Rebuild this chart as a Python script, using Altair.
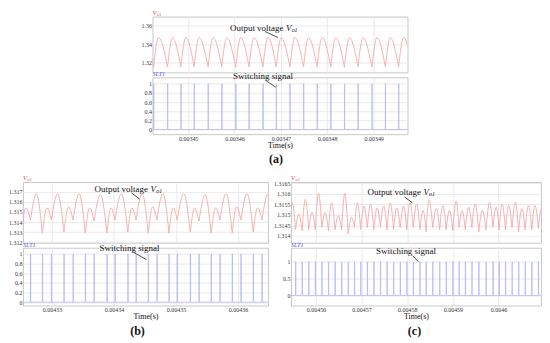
import altair as alt
import pandas as pd

# ---------------- data (times in microseconds, voltages in V) ----------------
# panel (a)
a_x_domain_us = [3442.3, 3497.3]
a_x_ticks = [0.00345, 0.00346, 0.00347, 0.00348, 0.00349]
a_v_domain = [1.309, 1.370]
a_v_ticks = [1.32, 1.34, 1.36]
a_s_domain = [-0.1, 1.14]
a_s_ticks = [0, 0.2, 0.4, 0.6, 0.8, 1]
a_trough_t = [3439.60, 3442.54, 3445.55, 3448.43, 3451.29, 3454.30, 3457.25, 3460.26, 3463.12,
              3466.13, 3468.99, 3471.94, 3474.88, 3477.81, 3480.75, 3483.70, 3486.62, 3489.63,
              3492.52, 3495.38, 3498.32]
a_trough_v = [1.3150, 1.3148, 1.3150, 1.3149, 1.3151, 1.3149, 1.3150, 1.3148, 1.3150, 1.3149,
              1.3151, 1.3149, 1.3150, 1.3148, 1.3150, 1.3149, 1.3151, 1.3149, 1.3150, 1.3148, 1.3150]
a_peak_t = [3440.68, 3443.62, 3446.63, 3449.51, 3452.37, 3455.38, 3458.33, 3461.34, 3464.20,
            3467.21, 3470.07, 3473.02, 3475.96, 3478.89, 3481.83, 3484.78, 3487.70, 3490.71,
            3493.60, 3496.46]
a_peak_v = [1.3468, 1.3470, 1.3468, 1.3471, 1.3469, 1.3470, 1.3468, 1.3471, 1.3469, 1.3470,
            1.3468, 1.3470, 1.3469, 1.3471, 1.3468, 1.3470, 1.3469, 1.3470, 1.3468, 1.3470]

# panel (b)
b_x_domain_us = [4325.31, 4364.84]
b_x_ticks = [0.00433, 0.00434, 0.00435, 0.00436]
b_v_domain = [1.31195, 1.31797]
b_v_ticks = [1.312, 1.313, 1.314, 1.315, 1.316, 1.317]
b_s_domain = [-0.07, 1.13]
b_s_ticks = [0, 0.2, 0.4, 0.6, 0.8, 1]
b_trough_t = [4325.06, 4326.52, 4328.44, 4329.89, 4331.92, 4333.39, 4335.36, 4336.77, 4338.86,
              4340.16, 4342.23, 4343.55, 4345.52, 4346.92, 4348.86, 4350.20, 4352.30, 4353.70,
              4355.67, 4357.08, 4359.06, 4360.47, 4362.45, 4363.86, 4365.83]
b_trough_v = [1.3129, 1.3142, 1.3129, 1.3142, 1.3130, 1.3142, 1.3129, 1.3141, 1.3129, 1.3142,
              1.3130, 1.3142, 1.3129, 1.3142, 1.3129, 1.3142, 1.3130, 1.3141, 1.3129, 1.3142,
              1.3129, 1.3142, 1.3130, 1.3142, 1.3129]
b_peak_t = [4325.79, 4327.48, 4329.17, 4330.91, 4332.66, 4334.38, 4336.07, 4337.82, 4339.51,
            4341.20, 4342.89, 4344.54, 4346.22, 4347.89, 4349.53, 4351.25, 4353.00, 4354.69,
            4356.38, 4358.07, 4359.77, 4361.46, 4363.16, 4364.85]
b_peak_v = [1.3154, 1.3168, 1.3154, 1.3168, 1.3155, 1.3168, 1.3154, 1.3167, 1.3154, 1.3168,
            1.3154, 1.3168, 1.3155, 1.3168, 1.3154, 1.3168, 1.3154, 1.3167, 1.3154, 1.3168,
            1.3155, 1.3168, 1.3154, 1.3168]

# panel (c)
c_x_domain_us = [4554.53, 4609.30]
c_x_ticks = [0.00456, 0.00457, 0.00458, 0.00459, 0.0046]
c_v_domain = [1.31368, 1.31655]
c_v_ticks = [1.314, 1.3145, 1.315, 1.3155, 1.316, 1.3165]
c_s_domain = [-0.3, 1.42]
c_s_ticks = [0, 0.5, 1]
c_trough_t = [4554.09, 4555.54, 4556.98, 4558.42, 4559.86, 4561.30, 4562.74, 4564.19, 4565.63,
              4567.06, 4568.43, 4569.81, 4571.25, 4572.69, 4574.13, 4575.57, 4577.01, 4578.46,
              4579.90, 4581.33, 4582.77, 4584.13, 4585.58, 4587.10, 4588.53, 4589.98, 4591.35,
              4592.72, 4594.16, 4595.67, 4597.25, 4598.77, 4600.13, 4601.51, 4602.96, 4604.39,
              4605.83, 4607.28, 4608.72, 4610.15]
c_trough_v = [1.3143, 1.3143, 1.31425, 1.3143, 1.3143, 1.3144, 1.31425, 1.3143, 1.3143, 1.3141,
              1.3144, 1.3143, 1.3144, 1.3143, 1.3144, 1.3143, 1.3143, 1.3144, 1.3143, 1.3144,
              1.3143, 1.3142, 1.3144, 1.3143, 1.3143, 1.31425, 1.3144, 1.3143, 1.3144, 1.3142,
              1.3143, 1.3144, 1.3143, 1.3143, 1.3144, 1.3142, 1.3143, 1.3143, 1.31435, 1.3143]
c_peak_t = [4554.81, 4556.26, 4557.69, 4559.14, 4560.58, 4562.01, 4563.46, 4564.91, 4566.34,
            4567.78, 4569.08, 4570.53, 4571.96, 4573.41, 4574.85, 4576.28, 4577.73, 4579.18,
            4580.61, 4582.05, 4583.48, 4584.78, 4586.38, 4587.81, 4589.25, 4590.70, 4592.00,
            4593.43, 4594.88, 4596.45, 4598.05, 4599.48, 4600.78, 4602.23, 4603.68, 4605.10,
            4606.55, 4608.00, 4609.43]
c_peak_v = [1.31556, 1.31503, 1.31574, 1.31511, 1.31601, 1.31511, 1.31556, 1.31495, 1.31601,
            1.31488, 1.31556, 1.31541, 1.31549, 1.31533, 1.31541, 1.31556, 1.31533, 1.31541,
            1.31556, 1.31551, 1.31521, 1.31570, 1.31529, 1.31544, 1.31521, 1.31564, 1.31521,
            1.31536, 1.31551, 1.31521, 1.31559, 1.31536, 1.31551, 1.31544, 1.31559, 1.31529,
            1.31544, 1.31544, 1.31529]

# ---------------- style ----------------
SERIF = "Liberation Serif"
RED = "#f4a8a8"
BLUE = "#b3b7f7"
ONE = pd.DataFrame({"k": [0]})


def hump_df(trough_t, trough_v, peak_t, peak_v):
    rows = []
    for k in range(len(peak_t)):
        rows.append(dict(h=k, o=0, t=trough_t[k] * 1e-6, v=trough_v[k]))
        rows.append(dict(h=k, o=1, t=peak_t[k] * 1e-6, v=peak_v[k]))
        rows.append(dict(h=k, o=2, t=trough_t[k + 1] * 1e-6, v=trough_v[k + 1]))
    return pd.DataFrame(rows)


def pulse_df(pulse_t, width_us, xdom_us):
    rows = [dict(o=0, t=xdom_us[0] * 1e-6, s=0)]
    i = 1
    for p in pulse_t:
        for dt, s in [(0, 0), (0, 1), (width_us, 1), (width_us, 0)]:
            rows.append(dict(o=i, t=(p + dt) * 1e-6, s=s))
            i += 1
    rows.append(dict(o=i, t=xdom_us[1] * 1e-6, s=0))
    return pd.DataFrame(rows)


def txt(s, x, y, size=9, color="#111", align="left", baseline="middle", style="normal", weight="normal"):
    return alt.Chart(ONE).mark_text(
        text=s, font=SERIF, fontSize=size, color=color, align=align, baseline=baseline,
        fontStyle=style, fontWeight=weight,
    ).encode(x=alt.value(x), y=alt.value(y))


def arrow(x1, y1, x2, y2):
    return alt.Chart(ONE).mark_rule(color="#222", strokeWidth=0.8).encode(
        x=alt.value(x1), y=alt.value(y1), x2=alt.value(x2), y2=alt.value(y2))


def panel(trough_t, trough_v, peak_t, peak_v, xdom_us, xticks, vdom, vticks, sdom, sticks,
          pulse_w, W, HV, HS, ann, caption):
    xdom = [xdom_us[0] * 1e-6, xdom_us[1] * 1e-6]
    volt_line = alt.Chart(hump_df(trough_t, trough_v, peak_t, peak_v)).mark_line(
        color=RED, strokeWidth=0.9, interpolate="monotone", clip=True
    ).encode(
        x=alt.X("t:Q", scale=alt.Scale(domain=xdom, nice=False, zero=False),
                axis=alt.Axis(values=xticks, labels=False, ticks=False, domain=False, title=None)),
        y=alt.Y("v:Q", scale=alt.Scale(domain=vdom, nice=False, zero=False),
                axis=alt.Axis(values=vticks, format=".4~f", title=None)),
        detail="h:N",
        order="o:Q",
    )
    ox, oy = ann["out"]
    volt = alt.layer(
        volt_line,
        txt("V", 0, -1, size=6.5, color="#e04848", baseline="bottom", style="italic"),
        txt("o1", 4.6, 0.5, size=4.5, color="#e04848", baseline="bottom", style="italic"),
        txt("Output voltage", ox, oy, align="right"),
        txt("V", ox + 2.5, oy, style="italic"),
        txt("o1", ox + 8.2, oy + 2.5, size=6, style="italic"),
        arrow(*ann["out_arrow"]),
    ).properties(width=W, height=HV)

    sw_line = alt.Chart(pulse_df(trough_t, pulse_w, xdom_us)).mark_line(
        color=BLUE, strokeWidth=0.8, clip=True
    ).encode(
        x=alt.X("t:Q", scale=alt.Scale(domain=xdom, nice=False, zero=False),
                axis=alt.Axis(values=xticks, format=".5~f", title="Time(s)")),
        y=alt.Y("s:Q", scale=alt.Scale(domain=sdom, nice=False, zero=False),
                axis=alt.Axis(values=sticks, format=".1~f", title=None)),
        order="o:Q",
    )
    sx, sy = ann["sw"]
    sw = alt.layer(
        sw_line,
        txt("SLT1", 0, 0, size=6, color="#4a55e0", baseline="bottom", style="italic"),
        txt("Switching signal", sx, sy, align="center"),
        arrow(*ann["sw_arrow"]),
        txt(caption, ann["cap"], HS + ann["cap_dy"], size=12, align="center", weight="bold"),
    ).properties(width=W, height=HS)

    return alt.vconcat(volt, sw, spacing=5, bounds="flush")


panel_a = panel(a_trough_t, a_trough_v, a_peak_t, a_peak_v, a_x_domain_us, a_x_ticks,
                a_v_domain, a_v_ticks, a_s_domain, a_s_ticks, 0.06, 256, 56, 57,
                dict(out=(131.5, 11), out_arrow=(113, 15, 126, 21), sw=(111, -1),
                     sw_arrow=(113.5, 3, 124, 10), cap=124, cap_dy=25), "(a)")
panel_b = panel(b_trough_t, b_trough_v, b_peak_t, b_peak_v, b_x_domain_us, b_x_ticks,
                b_v_domain, b_v_ticks, b_s_domain, b_s_ticks, 0.05, 246, 61, 58,
                dict(out=(125.5, 7), out_arrow=(109, 11, 117, 17), sw=(107, 0),
                     sw_arrow=(110, 4, 124, 12), cap=115, cap_dy=26), "(b)")
panel_c = panel(c_trough_t, c_trough_v, c_peak_t, c_peak_v, c_x_domain_us, c_x_ticks,
                c_v_domain, c_v_ticks, c_s_domain, c_s_ticks, 0.06, 251, 61, 58,
                dict(out=(130.5, 10), out_arrow=(114, 15, 122, 21), sw=(115.5, 3),
                     sw_arrow=(122, 8, 128, 14), cap=124, cap_dy=26), "(c)")

spacer = alt.Chart(ONE).mark_point(opacity=0).encode(
    x=alt.value(0), y=alt.value(0)
).properties(width=117, height=10, view=alt.ViewBackground(stroke="transparent"))

row_a = alt.hconcat(spacer, panel_a, spacing=0)
row_bc = alt.hconcat(panel_b, panel_c, spacing=4)

chart = alt.vconcat(row_a, row_bc, spacing=8).properties(
    padding=0, background="white"
).configure(font=SERIF).configure_view(
    stroke="#c8c8c8", strokeWidth=1
).configure_axis(
    labelFont=SERIF, labelFontSize=6, labelColor="#333", labelPadding=1,
    ticks=False, domain=False, gridColor="#e4e4e4", gridWidth=0.8,
    titleFont=SERIF, titleFontWeight="normal", titleColor="#111", titleFontSize=8,
    titlePadding=0,
)

chart.save("out.html", embed_options={"renderer": "svg", "actions": False})
